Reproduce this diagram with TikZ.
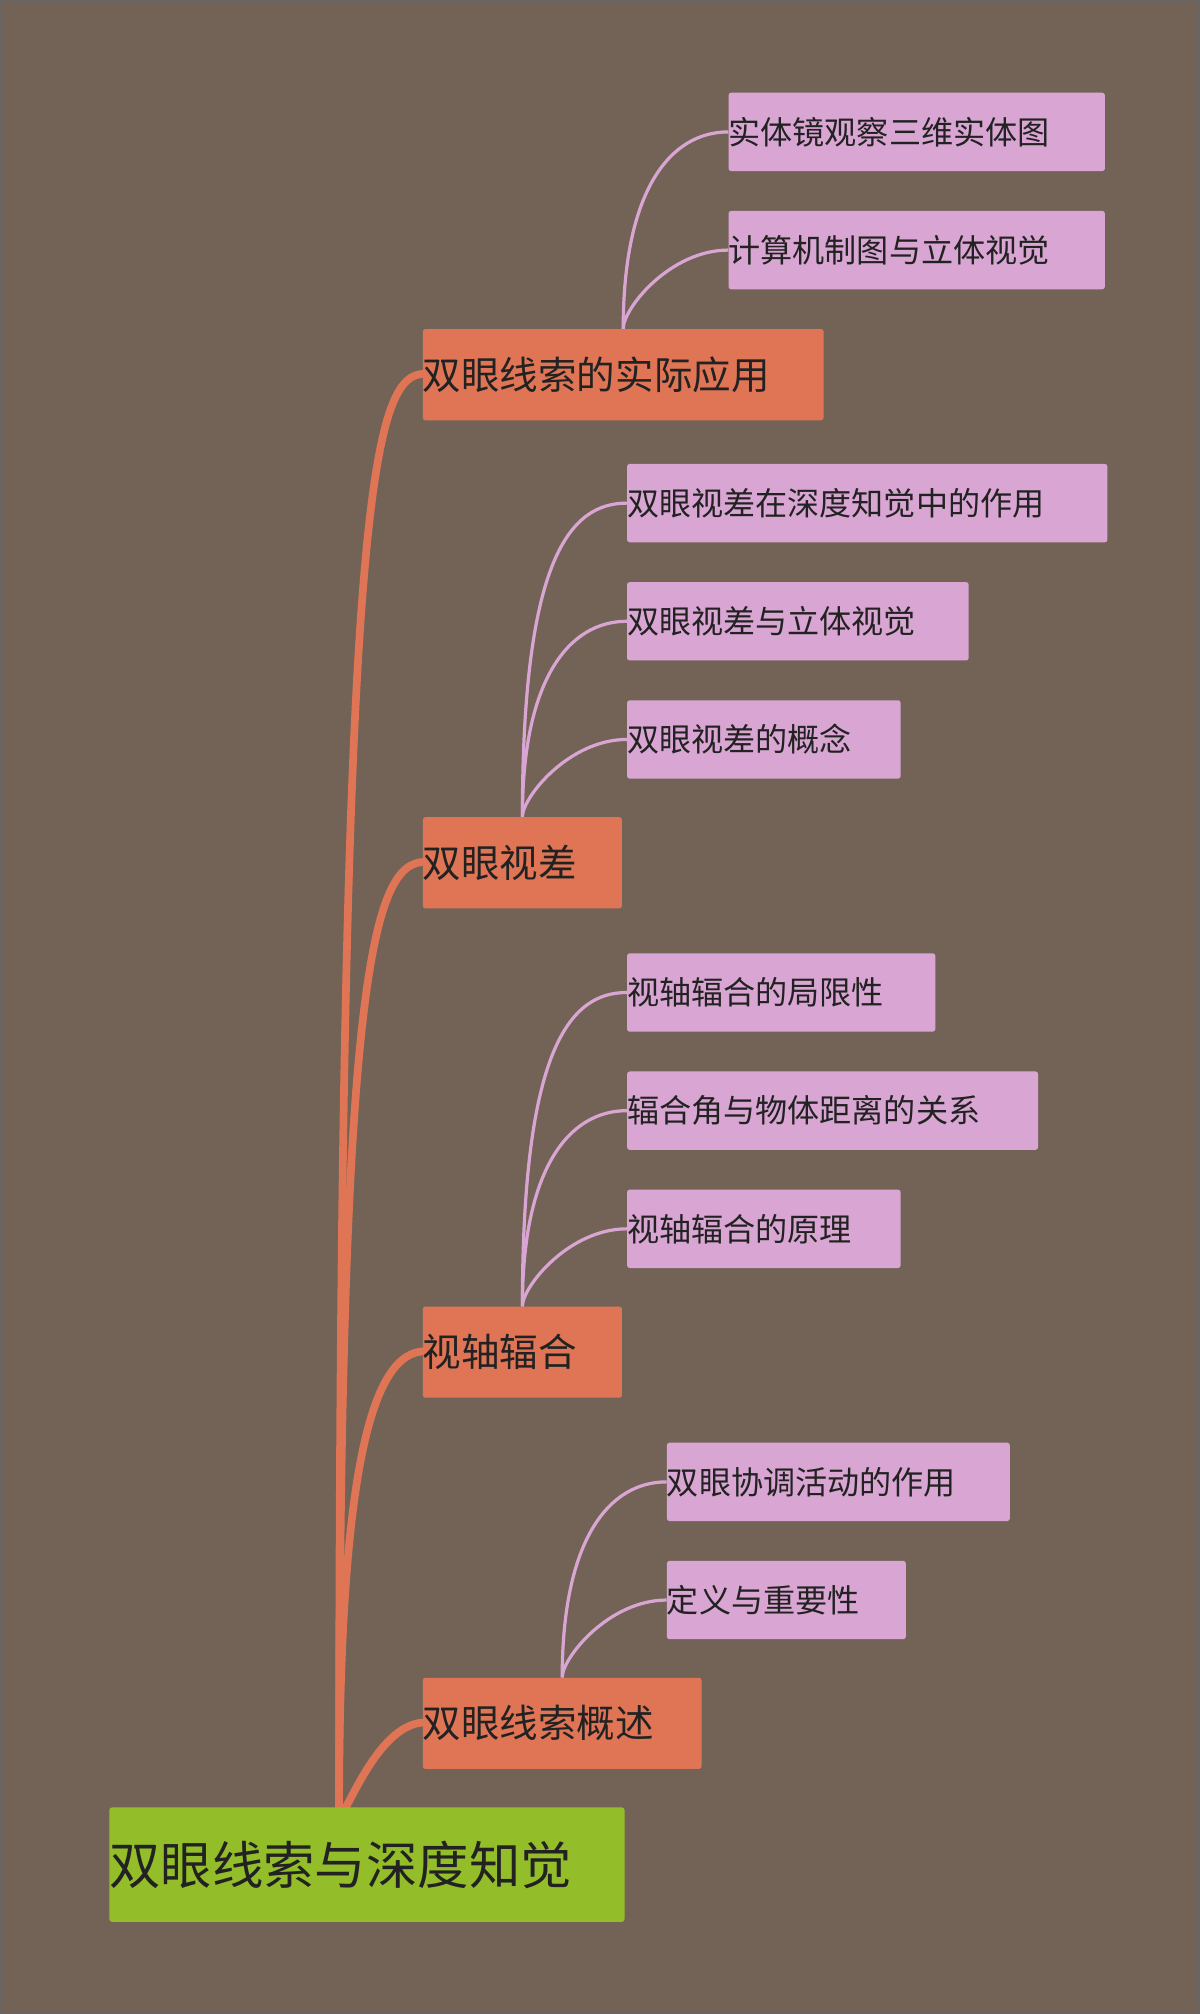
\documentclass[tikz,border=0pt]{standalone}
\usepackage{fontspec}
\usetikzlibrary{calc}
\setmainfont{Noto Sans CJK SC}
\definecolor{bg}{HTML}{736357}
\definecolor{org}{HTML}{E07555}
\definecolor{pnk}{HTML}{D9A6D3}
\definecolor{grn}{HTML}{93BE2A}
\definecolor{txt}{HTML}{222222}
\begin{document}
\begin{tikzpicture}[x=1pt,y=-1pt,
  box/.style={rectangle,rounded corners=2pt,anchor=north west,inner xsep=0pt,inner ysep=0pt,align=left,text=txt},
  pk/.style={box,fill=pnk,font=\fontsize{25}{28}\selectfont,minimum height=61pt},
  og/.style={box,fill=org,font=\fontsize{30}{34}\selectfont,minimum height=71pt},
  thick1/.style={draw=org,line width=6pt},
  thin1/.style={draw=pnk,line width=2.5pt}]
\fill[bg] (0,0) rectangle (934,1568);
\draw[black!60,line width=1pt] (0.5,0.5) rectangle (933.5,1567.5);
% connectors first (behind)
\coordinate (rt) at (264,1410);
\foreach \y in {291,671,1052,1341}{
  \draw[thick1] (rt) .. controls (264,\y+90) and (290,\y) .. (331,\y);
}
% root
\node[box,fill=grn,font=\fontsize{40}{44}\selectfont,minimum height=89pt,text width=401pt,xshift=43pt] (root) at (42,1407) {双眼线索与深度知觉};
% orange
\newcommand{\og}[5]{\node[og,text width=#4pt,xshift=33pt] (#1) at (#2,#3) {#5};}
\og{A}{296}{256}{312}{双眼线索的实际应用}
\og{B}{296}{636}{155}{双眼视差}
\og{C}{296}{1017}{155}{视轴辐合}
\og{D}{296}{1306}{217}{双眼线索概述}
\newcommand{\pk}[5]{\node[pk,text width=#4pt,xshift=29pt] (#1) at (#2,#3) {#5};}
\pk{A1}{538}{72}{293}{实体镜观察三维实体图}
\pk{A2}{538}{164}{293}{计算机制图与立体视觉}
\pk{B1}{459}{361}{374}{双眼视差在深度知觉中的作用}
\pk{B2}{459}{453}{266}{双眼视差与立体视觉}
\pk{B3}{459}{545}{213}{双眼视差的概念}
\pk{C1}{459}{742}{240}{视轴辐合的局限性}
\pk{C2}{459}{834}{320}{辐合角与物体距离的关系}
\pk{C3}{459}{926}{213}{视轴辐合的原理}
\pk{D1}{490}{1123}{267}{双眼协调活动的作用}
\pk{D2}{490}{1215}{186}{定义与重要性}
\begin{scope}[on background layer/.style={}]
\foreach \o/\p in {A/A1,A/A2,B/B1,B/B2,B/B3,C/C1,C/C2,C/C3,D/D1,D/D2}{
  \draw[thin1] (\o.north) .. controls ($(\o.north |- \p.west)+(0,45)$) and ($(\p.west)+(-45,0)$) .. (\p.west);
}
\end{scope}
\end{tikzpicture}
\end{document}
